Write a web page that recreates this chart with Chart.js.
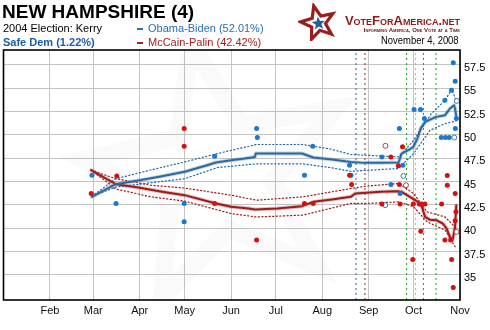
<!DOCTYPE html>
<html><head><meta charset="utf-8">
<script src="https://cdn.jsdelivr.net/npm/chart.js@4.4.1/dist/chart.umd.min.js"></script>
<style>
html,body{margin:0;padding:0;background:#fff;width:490px;height:330px;overflow:hidden;font-family:"Liberation Sans",Arial,sans-serif;}
#wrap{position:relative;width:490px;height:330px;}
canvas{position:absolute;left:0;top:0;}
.t{position:absolute;white-space:nowrap;line-height:1;}
</style></head><body>
<div id="wrap">
<canvas id="c" width="490" height="330"></canvas>
<div class="t" style="left:2px;top:2px;font-size:19px;font-weight:bold;color:#000;">NEW HAMPSHIRE (4)</div>
<div class="t" style="left:3px;top:23px;font-size:11px;color:#000;">2004 Election: Kerry</div>
<div class="t" style="left:3px;top:37px;font-size:11px;font-weight:bold;color:#1b5ea6;">Safe Dem (1.22%)</div>
<div style="position:absolute;left:137px;top:28px;width:6px;height:2px;background:#2a6fb5"></div>
<div class="t" style="left:148px;top:23px;font-size:11px;color:#2a6fb5;">Obama-Biden (52.01%)</div>
<div style="position:absolute;left:137px;top:42px;width:6px;height:2px;background:#a52222"></div>
<div class="t" style="left:148px;top:37px;font-size:11px;color:#a52222;">McCain-Palin (42.42%)</div>
<svg id="logo" style="position:absolute;left:298px;top:3px" width="40" height="38"></svg>
<div class="t" style="right:30px;top:14px;font-size:13px;font-weight:bold;font-variant:small-caps;color:#8c1c1c;">VoteForAmerica.net</div>
<div class="t" style="right:30px;top:27px;font-size:6px;font-weight:bold;font-variant:small-caps;color:#6b1515;">Informing America, One Vote at a Time</div>
<div class="t" style="right:31px;top:35px;font-size:11.5px;color:#000;transform:scaleX(0.82);transform-origin:right center;">November 4, 2008</div>
</div>
<script>
// ---- data ----
const monthLabels = ['Feb','Mar','Apr','May','Jun','Jul','Aug','Sep','Oct','Nov'];
const monthDays   = [31,60,91,121,152,182,213,244,274,305];
const yTicks = [35,37.5,40,42.5,45,47.5,50,52.5,55,57.5];
const xMin = 0, xMax = 305, yMin = 32.3, yMax = 59.1;

const eventDays   = [235.5,241.5,269.3,275.2,280.6,289];
const eventColors = ['#2b5f9e','#8e2a2a','#1e9e1e','#f0a030','#1e9e1e','#1e9e1e'];

const obamaTrendDays = [59,75,90,105,121,135,142,152,160,168,168.5,185,199.5,207,219.5,232,241,252,264,266,270.5,273.8,276.5,278.8,281.7,289,295,298.3,301,301.7,302.5];
const obamaTrend     = [43.36,44.72,45.1,45.55,46.04,46.7,47.04,47.29,47.45,47.64,48.0,48.0,48.0,47.58,47.36,47.1,47.0,47.0,47.04,48.0,48.36,48.7,49.6,50.7,51.4,51.93,52.11,52.83,53.18,52.83,52.01];
const obamaUpperDays = [59,75,100,121,143,169,200,218,232,264,274,286,295,299.5,302.5];
const obamaUpper     = [43.4,45.3,46.3,47.1,48.0,48.97,48.97,48.5,47.9,47.64,49.4,52.3,53.7,54.9,53.6];
const obamaLowerDays = [59,75,100,121,143,169,200,218,232,264,274,285,295,302.5];
const obamaLower     = [43.4,44.4,44.9,45.3,46.5,46.9,46.9,46.5,46.1,46.4,48.0,50.5,51.2,51.5];

const mccainTrendDays = [58.6,75,90,105,121,142,152,164,168,183,199.5,207,219.5,232,235,252,263,266,271.5,275,277,279.5,281.7,285,289,293.5,296,298.3,300,301.7,302.5];
const mccainTrend     = [46.22,44.72,44.35,43.93,43.54,42.65,42.3,42.1,42.0,42.1,42.36,42.82,43.08,43.36,43.72,43.9,43.97,43.9,43.36,43.0,42.8,42.3,41.2,40.9,40.86,40.5,39.97,39.07,38.7,40.1,42.42];
const mccainUpperDays = [58.6,75,98.5,121,152,169,200,232,242,264,274,283,295,302.5];
const mccainUpper     = [46.22,45.3,44.6,44.3,43.54,43.0,43.36,44.25,44.5,44.8,43.72,41.75,41.2,40.0];
const mccainLowerDays = [58.6,75,98.5,121,152,169,200,232,242,264,274,283,295,302.5];
const mccainLower     = [46.22,44.2,43.36,42.9,41.57,41.2,41.4,42.65,42.65,42.82,42.3,40.68,39.8,37.8];

const obamaPollDays = [59.1,75.2,120.7,120.7,141.1,169.1,169.6,206.6,201.1,231.2,232.2,252.8,258.8,264.5,265.0,266.8,274.3,278.6,281.2,292.5,295.3,297.8,294.9,299.3,300.5,301.8,302.6,301.9];
const obamaPolls    = [45.68,42.65,42.65,40.68,47.72,50.68,49.72,48.79,45.68,46.75,45.68,47.64,44.68,50.68,43.72,46.75,52.72,52.72,51.76,49.72,49.72,49.72,53.72,54.79,57.72,55.75,51.76,50.68];
const obamaOpenDays = [267.2,255.0,302.9,301.2];
const obamaOpen     = [45.6,42.47,53.64,49.72];

const mccainPollDays = [58.6,75.7,120.7,120.7,141.1,169.1,201.1,206.9,231.2,232.6,258.8,252.8,264.5,265.0,266.6,263.8,273.8,277.8,279.6,281.6,292.7,296.5,296.5,301.8,278.8,273.4,294.9,298.7,299.4,301.8,302.3,300.5];
const mccainPolls    = [43.72,45.6,50.68,48.79,42.65,38.72,42.65,42.65,45.68,44.68,47.64,42.58,44.68,42.58,48.72,46.68,42.58,42.58,42.58,42.58,42.58,45.65,44.6,43.72,39.68,36.65,38.72,38.72,36.65,40.79,41.75,33.65];
const mccainOpenDays = [255.2,268.9,302.7];
const mccainOpen     = [48.83,44.6,39.6];

// ---- logo star ----
function starPts(cx,cy,R,r,rot){const p=[];for(let i=0;i<10;i++){const a=rot+Math.PI*i/5-Math.PI/2;const rr=i%2?r:R;p.push((cx+rr*Math.cos(a)).toFixed(1)+','+(cy+rr*Math.sin(a)).toFixed(1));}return p.join(' ');}
document.getElementById('logo').innerHTML =
 '<polygon points="'+starPts(20,20,17.5,7.5,-0.25)+'" fill="#fff" stroke="#9b1e1e" stroke-width="3.2" stroke-linejoin="miter"/>'+
 '<polygon points="'+starPts(20.5,20.5,7,3,-0.1)+'" fill="#2a5f95"/>';

// ---- chart ----
const zip = (xs, ys) => xs.map((x, i) => ({x, y: ys[i]}));
const FONT = '"Liberation Sans",Arial,sans-serif';

const datasets = [];
eventDays.forEach((d, i) => datasets.push({
  data: [{x:d,y:yMin},{x:d,y:yMax}], showLine:true, pointRadius:0,
  borderColor: eventColors[i], borderWidth:1, borderDash:[2,3], order:20
}));
function line(xs, ys, color, width, dash, order){
  return {data: zip(xs, ys), showLine:true, pointRadius:0, borderColor:color, borderWidth:width, borderDash:dash||[], tension:0, order, borderCapStyle:'round', borderJoinStyle:'round'};
}
datasets.push(line(obamaUpperDays, obamaUpper, '#2166a8', 1.2, [1.2,2.4], 15));
datasets.push(line(obamaLowerDays, obamaLower, '#2166a8', 1.2, [1.2,2.4], 15));
datasets.push(line(mccainUpperDays, mccainUpper, '#9c1a1a', 1.2, [1.2,2.4], 15));
datasets.push(line(mccainLowerDays, mccainLower, '#9c1a1a', 1.2, [1.2,2.4], 15));
datasets.push(line(mccainTrendDays, mccainTrend, 'rgba(175,80,80,0.35)', 4, null, 12));
datasets.push(line(mccainTrendDays, mccainTrend, '#9e1b1b', 2, null, 11));
datasets.push(line(obamaTrendDays, obamaTrend, 'rgba(80,135,180,0.35)', 4, null, 10));
datasets.push(line(obamaTrendDays, obamaTrend, '#2d6a9a', 2, null, 9));
function pts(xs, ys, fill, stroke, bw, order){
  return {data: zip(xs, ys), showLine:false, pointRadius:2.5, pointHoverRadius:2.5, pointBackgroundColor:fill, pointBorderColor:stroke, pointBorderWidth:bw, order};
}
datasets.push(pts(obamaOpenDays, obamaOpen, '#fff', '#3a78b0', 1, 4));
datasets.push(pts(mccainOpenDays, mccainOpen, '#fff', '#b04040', 1, 4));
datasets.push(pts(obamaPollDays, obamaPolls, '#1a78d0', '#1a78d0', 0, 2));
datasets.push(pts(mccainPollDays, mccainPolls, '#d80f0f', '#d80f0f', 0, 1));

const deco = {
  id:'deco',
  beforeDatasetsDraw(chart){
    const {ctx, chartArea:a} = chart;
    ctx.save();
    ctx.beginPath(); ctx.rect(a.left,a.top,a.right-a.left,a.bottom-a.top); ctx.clip();
    const cx = a.left + (a.right-a.left)*0.47, cy = a.top + (a.bottom-a.top)*0.5;
    ctx.beginPath();
    for(let i=0;i<10;i++){const ang=-0.2+Math.PI*i/5-Math.PI/2;const r=i%2?55:135;
      const px=cx+r*Math.cos(ang), py=cy+r*Math.sin(ang); i?ctx.lineTo(px,py):ctx.moveTo(px,py);}
    ctx.closePath();
    ctx.lineWidth = 18; ctx.strokeStyle = 'rgba(0,0,0,0.018)'; ctx.stroke();
    ctx.restore();
  },
  afterDraw(chart){
    const {ctx, chartArea:a} = chart;
    ctx.save(); ctx.strokeStyle='#000'; ctx.lineWidth=1.6;
    ctx.strokeRect(a.left, a.top, a.right-a.left, a.bottom-a.top);
    ctx.restore();
  }
};

new Chart(document.getElementById('c'), {
  type:'scatter',
  data:{datasets},
  plugins:[deco],
  options:{
    responsive:false, animation:false, events:[],
    layout:{padding:{top:50,left:2,right:0,bottom:0}},
    plugins:{legend:{display:false}, tooltip:{enabled:false}},
    scales:{
      x:{type:'linear', min:xMin, max:xMax,
        afterBuildTicks: s => { s.ticks = monthDays.map(v => ({value:v})); },
        afterFit: s => { s.height = 30; },
        grid:{color:'#c4c4c4', lineWidth:1, drawTicks:false},
        border:{display:false},
        ticks:{autoSkip:false, maxRotation:0, padding:4, color:'#111',
          font:{family:FONT, size:11},
          callback: v => monthLabels[monthDays.indexOf(v)] || ''}
      },
      y:{type:'linear', position:'right', min:yMin, max:yMax,
        afterBuildTicks: s => { s.ticks = yTicks.map(v => ({value:v})); },
        afterFit: s => { s.width = 30; },
        grid:{color:'#c4c4c4', lineWidth:1, drawTicks:false},
        border:{display:false},
        ticks:{padding:4, color:'#000', labelOffset:3,
          font:{family:FONT, size:11},
          callback: v => String(v)}
      }
    }
  }
});
</script>
</body></html>
